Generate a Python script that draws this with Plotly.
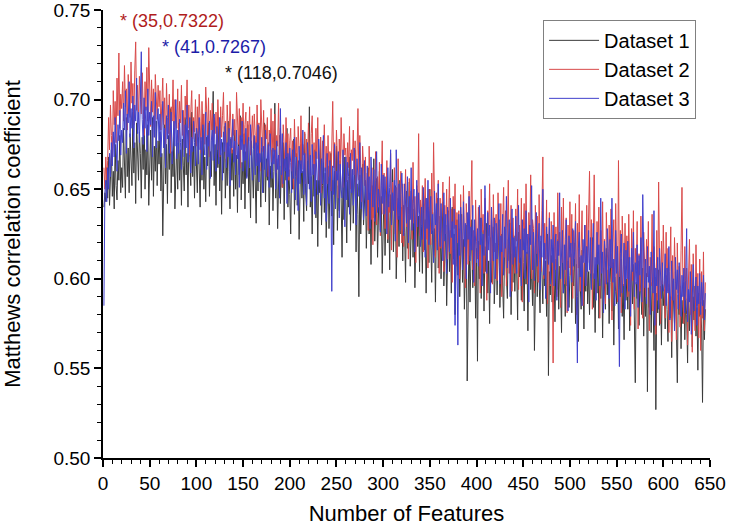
import plotly.graph_objects as go

dataset1 = [
.640,.648,.643,.662,.645,.668,.641,.657,.672,.646,.660,.639,.675,.652,.644,.666,.655,.680,.648,.662,
.651,.684,.662,.645,.690,.657,.673,.648,.681,.666,.652,.693,.659,.676,.642,.687,.664,.655,.682,.670,
.645,.679,.661,.694,.650,.672,.658,.686,.641,.668,.683,.655,.690,.646,.674,.660,.688,.652,.677,.664,
.682,.649,.670,.624,.666,.686,.653,.675,.642,.680,.661,.695,.648,.671,.657,.684,.639,.668,.676,.650,
.687,.655,.672,.641,.678,.663,.649,.690,.658,.670,.640,.683,.666,.652,.693,.657,.674,.645,.681,.662,
.648,.684,.661,.640,.677,.655,.692,.650,.668,.643,.679,.663,.687,.646,.671,.657,.683,.7046,.652,.675,
.641,.680,.662,.690,.649,.670,.636,.676,.659,.685,.645,.667,.652,.688,.660,.639,.678,.655,.672,.646,
.683,.650,.669,.637,.676,.658,.691,.644,.665,.653,.681,.639,.671,.657,.686,.648,.662,.634,.677,.660,
.645,.679,.656,.631,.670,.649,.685,.657,.640,.673,.662,.648,.687,.643,.667,.655,.676,.630,.663,.651,
.672,.638,.660,.698,.645,.667,.628,.658,.680,.642,.663,.651,.676,.633,.669,.655,.684,.640,.661,.647,
.625,.663,.650,.678,.636,.657,.670,.641,.666,.622,.654,.675,.645,.660,.632,.681,.649,.638,.668,.653,
.696,.640,.657,.625,.664,.646,.672,.634,.655,.618,.661,.648,.679,.630,.652,.666,.637,.659,.623,.650,
.663,.628,.648,.670,.635,.655,.619,.660,.641,.674,.627,.652,.638,.666,.645,.612,.657,.633,.668,.642,
.620,.655,.640,.668,.627,.650,.661,.631,.646,.672,.615,.653,.636,.590,.658,.625,.644,.664,.630,.649,
.655,.617,.641,.662,.625,.648,.608,.652,.634,.667,.621,.643,.656,.612,.639,.660,.627,.646,.603,.637,
.650,.613,.638,.657,.620,.643,.605,.647,.631,.661,.615,.636,.652,.600,.633,.645,.618,.655,.625,.640,
.610,.641,.626,.598,.649,.617,.636,.654,.607,.630,.644,.612,.639,.595,.627,.650,.618,.635,.604,.642,
.629,.603,.646,.616,.633,.592,.624,.640,.609,.650,.620,.598,.637,.613,.628,.587,.631,.645,.606,.622,
.635,.600,.624,.643,.596,.617,.630,.585,.621,.638,.604,.627,.592,.640,.611,.625,.580,.619,.633,.602,
.628,.590,.616,.636,.598,.622,.583,.613,.630,.543,.605,.626,.587,.619,.633,.595,.611,.624,.578,.617,
.554,.621,.600,.634,.589,.613,.627,.582,.618,.604,.631,.592,.610,.575,.623,.598,.615,.629,.586,.609,
.620,.591,.612,.633,.584,.607,.625,.596,.578,.617,.628,.601,.589,.622,.610,.631,.580,.614,.598,.624,
.593,.618,.605,.577,.626,.601,.613,.588,.630,.609,.582,.620,.597,.615,.571,.611,.624,.594,.606,.585,
.619,.560,.608,.627,.590,.614,.599,.581,.621,.603,.586,.616,.596,.610,.579,.625,.546,.604,.591,.613,
.587,.617,.603,.576,.611,.594,.622,.583,.607,.598,.570,.615,.592,.605,.579,.619,.596,.610,.584,.602,
.614,.581,.605,.596,.620,.575,.608,.590,.565,.612,.597,.583,.616,.601,.572,.609,.593,.618,.586,.604,
.580,.611,.595,.623,.584,.603,.570,.608,.592,.615,.578,.600,.589,.612,.567,.606,.596,.583,.617,.591,
.605,.575,.598,.614,.582,.609,.563,.601,.593,.586,.618,.572,.604,.590,.611,.579,.597,.566,.607,.588,
.600,.583,.612,.571,.595,.605,.586,.608,.577,.542,.598,.589,.610,.574,.602,.593,.580,.606,.568,.596,
.579,.603,.537,.595,.584,.607,.570,.598,.588,.560,.601,.527,.592,.581,.605,.574,.596,.563,.599,.585,
.594,.572,.602,.583,.565,.597,.578,.590,.556,.599,.586,.575,.604,.569,.542,.591,.580,.596,.561,.588,
.575,.598,.566,.589,.580,.553,.594,.571,.585,.600,.562,.590,.577,.596,.568,.584,.549,.592,.579,.587,
.572,.531,.588,.566,.583,
]

dataset2 = [
.662,.650,.668,.655,.666,.690,.672,.697,.680,.664,.705,.686,.699,.676,.712,.691,.726,.684,.703,.695,
.710,.688,.719,.696,.706,.683,.714,.700,.690,.721,.698,.709,.686,.716,.7322,.694,.708,.689,.713,.701,
.692,.715,.697,.680,.710,.694,.718,.688,.729,.702,.685,.711,.693,.706,.679,.714,.699,.689,.708,.696,
.705,.683,.698,.712,.686,.701,.675,.709,.690,.681,.703,.670,.696,.688,.711,.679,.700,.693,.684,.706,
.676,.699,.687,.708,.680,.694,.672,.702,.689,.711,.684,.697,.669,.693,.705,.678,.690,.682,.700,.674,
.696,.679,.703,.688,.670,.699,.684,.692,.675,.707,.687,.680,.701,.668,.694,.683,.698,.677,.690,.681,
.693,.672,.700,.685,.668,.696,.679,.691,.704,.676,.688,.665,.697,.683,.674,.699,.687,.670,.692,.680,
.689,.667,.704,.683,.675,.695,.662,.690,.679,.698,.671,.686,.693,.664,.688,.677,.696,.669,.684,.691,
.673,.692,.680,.665,.697,.676,.687,.660,.700,.682,.671,.694,.668,.686,.678,.690,.657,.683,.674,.695,
.665,.688,.671,.692,.659,.680,.674,.698,.663,.684,.670,.651,.686,.676,.662,.690,.668,.681,.655,.677,
.684,.660,.677,.650,.689,.668,.679,.656,.685,.672,.664,.691,.661,.675,.669,.682,.653,.678,.666,.687,
.673,.658,.681,.691,.662,.676,.650,.684,.667,.690,.655,.672,.679,.648,.677,.665,.686,.660,.674,.653,
.680,.657,.671,.649,.685,.699,.662,.676,.655,.683,.668,.645,.678,.660,.690,.664,.651,.681,.669,.673,
.654,.676,.662,.685,.650,.672,.666,.683,.658,.677,.647,.669,.695,.655,.680,.661,.643,.674,.664,.652,
.668,.641,.659,.627,.674,.650,.633,.662,.619,.655,.644,.671,.630,.657,.640,.665,.624,.652,.677,.636,
.659,.628,.650,.666,.622,.647,.637,.670,.616,.654,.640,.662,.625,.651,.612,.667,.635,.648,.660,.620,
.653,.618,.645,.661,.629,.640,.611,.656,.634,.649,.622,.665,.631,.646,.609,.652,.637,.681,.624,.644,
.630,.652,.615,.641,.656,.622,.645,.606,.650,.633,.619,.659,.627,.676,.638,.612,.648,.625,.655,.603,
.645,.617,.636,.654,.604,.641,.625,.650,.611,.634,.657,.614,.639,.598,.646,.628,.653,.607,.637,.620,
.638,.600,.647,.622,.612,.652,.618,.595,.642,.630,.608,.649,.613,.635,.666,.605,.627,.596,.644,.621,
.611,.640,.620,.592,.650,.626,.636,.603,.645,.617,.588,.638,.624,.653,.609,.633,.597,.647,.615,.630,
.636,.599,.648,.619,.606,.642,.590,.630,.651,.612,.638,.596,.627,.655,.603,.624,.641,.593,.634,.616,
.603,.639,.621,.650,.594,.630,.612,.645,.587,.626,.642,.605,.653,.618,.597,.637,.623,.658,.600,.633,
.628,.592,.641,.614,.635,.598,.647,.620,.604,.638,.668,.600,.631,.611,.644,.586,.625,.637,.596,.632,
.619,.553,.637,.605,.629,.590,.648,.613,.626,.584,.640,.609,.645,.597,.622,.634,.581,.630,.606,.643,
.602,.636,.589,.627,.611,.642,.580,.631,.606,.647,.593,.624,.638,.585,.619,.630,.596,.641,.609,.628,
.660,.603,.633,.583,.621,.658,.610,.592,.632,.615,.640,.578,.627,.604,.643,.595,.622,.586,.637,.612,
.598,.630,.607,.639,.577,.620,.633,.592,.642,.611,.587,.666,.601,.627,.581,.635,.614,.596,.631,.605,
.624,.590,.636,.608,.574,.628,.599,.638,.583,.617,.605,.632,.572,.614,.593,.635,.603,.578,.626,.611,
.590,.622,.601,.632,.571,.612,.596,.636,.582,.618,.604,.569,.627,.588,.654,.609,.575,.621,.597,.630,
.611,.578,.626,.593,.617,.570,.604,.629,.565,.613,.588,.623,.598,.566,.620,.592,.607,.573,.616,.651,
.597,.575,.618,.588,.606,.563,.601,.622,.580,.608,.559,.614,.592,.571,.619,.585,.603,.567,.611,.560,
.604,.578,.615,.571,.598,
]

dataset3 = [
.585,.648,.655,.643,.662,.650,.670,.657,.676,.663,.682,.668,.690,.672,.660,.686,.677,.694,.669,.683,
.676,.698,.683,.705,.670,.692,.687,.710,.679,.695,.684,.702,.673,.697,.688,.712,.681,.693,.676,.700,
.7267,.689,.675,.701,.684,.696,.671,.706,.680,.693,.686,.699,.668,.691,.679,.704,.673,.688,.695,.677,
.692,.668,.687,.699,.673,.684,.662,.691,.678,.697,.670,.685,.693,.664,.681,.688,.674,.700,.667,.683,
.670,.689,.676,.661,.694,.681,.668,.686,.673,.697,.665,.682,.690,.659,.679,.671,.688,.676,.663,.684,
.681,.664,.690,.672,.679,.658,.686,.675,.669,.693,.661,.680,.674,.688,.656,.677,.683,.666,.692,.671,
.660,.685,.673,.664,.690,.669,.678,.655,.682,.671,.687,.662,.676,.668,.684,.652,.679,.673,.689,.665,
.677,.658,.683,.667,.674,.651,.680,.672,.688,.660,.675,.666,.684,.656,.673,.679,.662,.686,.669,.655,
.672,.680,.658,.676,.663,.686,.654,.670,.665,.679,.648,.674,.661,.683,.657,.668,.675,.651,.681,.664,
.656,.673,.664,.672,.650,.677,.661,.669,.645,.695,.658,.681,.653,.667,.660,.676,.642,.670,.657,.673,
.665,.648,.672,.656,.679,.644,.668,.661,.638,.674,.653,.666,.659,.683,.647,.670,.655,.641,.676,.662,
.650,.669,.643,.675,.658,.664,.636,.671,.655,.647,.678,.660,.641,.667,.653,.680,.645,.662,.632,.670,
.658,.642,.666,.651,.593,.663,.647,.675,.639,.660,.655,.671,.634,.664,.650,.645,.672,.656,.629,.668,
.644,.665,.657,.636,.670,.648,.661,.641,.673,.653,.630,.667,.655,.646,.676,.639,.662,.650,.633,.666,
.652,.635,.663,.644,.657,.628,.668,.648,.640,.661,.632,.655,.671,.637,.650,.645,.626,.664,.642,.658,
.636,.657,.645,.625,.662,.640,.651,.672,.630,.648,.638,.655,.621,.672,.644,.633,.653,.627,.647,.659,
.645,.624,.653,.638,.631,.657,.620,.646,.633,.662,.627,.642,.650,.615,.640,.655,.629,.648,.636,.618,
.640,.622,.651,.634,.612,.645,.628,.655,.619,.638,.646,.625,.636,.609,.649,.630,.642,.616,.653,.627,
.618,.642,.629,.610,.648,.621,.636,.603,.640,.627,.615,.645,.623,.632,.608,.639,.574,.630,.617,.563,
.636,.613,.640,.625,.605,.643,.618,.631,.600,.637,.622,.646,.610,.629,.616,.641,.598,.633,.620,.609,
.628,.607,.641,.619,.634,.596,.625,.613,.652,.622,.603,.637,.616,.630,.592,.640,.621,.610,.634,.600,
.631,.611,.626,.642,.597,.624,.615,.636,.602,.629,.617,.646,.606,.620,.633,.590,.627,.639,.608,.623,
.612,.635,.603,.627,.641,.609,.622,.596,.633,.616,.628,.600,.638,.614,.625,.587,.630,.619,.652,.605,
.626,.599,.621,.637,.607,.618,.631,.594,.624,.612,.650,.602,.620,.589,.629,.615,.608,.634,.597,.622,
.609,.630,.596,.618,.625,.588,.621,.613,.648,.600,.616,.627,.592,.619,.605,.633,.610,.582,.624,.612,
.620,.598,.628,.607,.615,.632,.590,.553,.617,.626,.601,.613,.585,.622,.609,.630,.596,.618,.604,.627,
.605,.623,.594,.617,.631,.600,.612,.588,.626,.608,.619,.596,.645,.603,.615,.581,.621,.610,.597,.628,
.615,.589,.622,.606,.645,.598,.611,.585,.627,.603,.618,.594,.551,.614,.625,.592,.607,.620,.583,.616,
.600,.621,.593,.612,.579,.617,.604,.626,.590,.609,.597,.619,.584,.613,.602,.623,.587,.647,.615,.595,
.611,.586,.618,.598,.607,.580,.615,.601,.592,.638,.574,.606,.596,.612,.583,.617,.600,.589,.609,.593,
.597,.614,.585,.606,.592,.618,.577,.603,.610,.588,.600,.571,.612,.594,.605,.583,.609,.596,.579,.602,
.590,.606,.581,.599,.628,.576,.594,.587,.604,.569,.598,.608,.582,.593,.601,.574,.596,.586,.603,.580,
.598,.585,.602,.577,.592,
]

series_names = ["Dataset 1", "Dataset 2", "Dataset 3"]
series_colors = ["#3a3a3a", "#d94a4a", "#4040cc"]

annot_texts = ["* (35,0.7322)", "* (41,0.7267)", "* (118,0.7046)"]
annot_x = [16, 61, 128]
annot_y = [0.7440, 0.7295, 0.7150]
annot_colors = ["#b01c1c", "#1c1ca8", "#111111"]

x_ticks = [0, 50, 100, 150, 200, 250, 300, 350, 400, 450, 500, 550, 600, 650]
y_ticks = [0.50, 0.55, 0.60, 0.65, 0.70, 0.75]

FONT = "Arial, Liberation Sans, sans-serif"

fig = go.Figure()
for name, data, color in zip(series_names, [dataset1, dataset2, dataset3], series_colors):
    fig.add_trace(go.Scatter(
        x=list(range(1, len(data) + 1)), y=data, mode="lines", name=name,
        line=dict(color=color, width=1),
    ))

for t, ax, ay, c in zip(annot_texts, annot_x, annot_y, annot_colors):
    fig.add_annotation(x=ax, y=ay, text=t, showarrow=False, xanchor="left", yanchor="middle",
                       font=dict(size=18, color=c, family=FONT))

axis_common = dict(
    showline=True, linecolor="black", linewidth=1.5, ticks="outside", tickwidth=1.5,
    ticklen=7, tickcolor="black", showgrid=False, zeroline=False, mirror=False,
    automargin=False, ticklabeloverflow="allow",
    tickfont=dict(size=19, color="black", family=FONT),
)

fig.update_layout(
    width=730, height=526,
    margin=dict(l=103, r=20, t=10, b=68),
    paper_bgcolor="white", plot_bgcolor="white",
    font=dict(family=FONT, color="black"),
    xaxis=dict(range=[0, 650], tickvals=x_ticks,
               title=dict(text="Number of Features", font=dict(size=22), standoff=14),
               minor=dict(ticks="outside", dtick=10, ticklen=4, tickwidth=1.2, tickcolor="black"),
               **axis_common),
    yaxis=dict(range=[0.50, 0.75], tickvals=y_ticks, tickformat=".2f",
               title=dict(text="Matthews correlation coefficient", font=dict(size=22), standoff=27),
               minor=dict(ticks="outside", dtick=0.01, ticklen=4, tickwidth=1.2, tickcolor="black"),
               **axis_common),
    legend=dict(x=0.725, y=0.978, xanchor="left", yanchor="top",
                bordercolor="#808080", borderwidth=1, bgcolor="white", itemwidth=50,
                font=dict(size=20, color="black", family=FONT), tracegroupgap=0),
    showlegend=True,
)

fig.write_html("out.html", config={"displayModeBar": False},
               post_script="document.body.style.margin='0px';")
